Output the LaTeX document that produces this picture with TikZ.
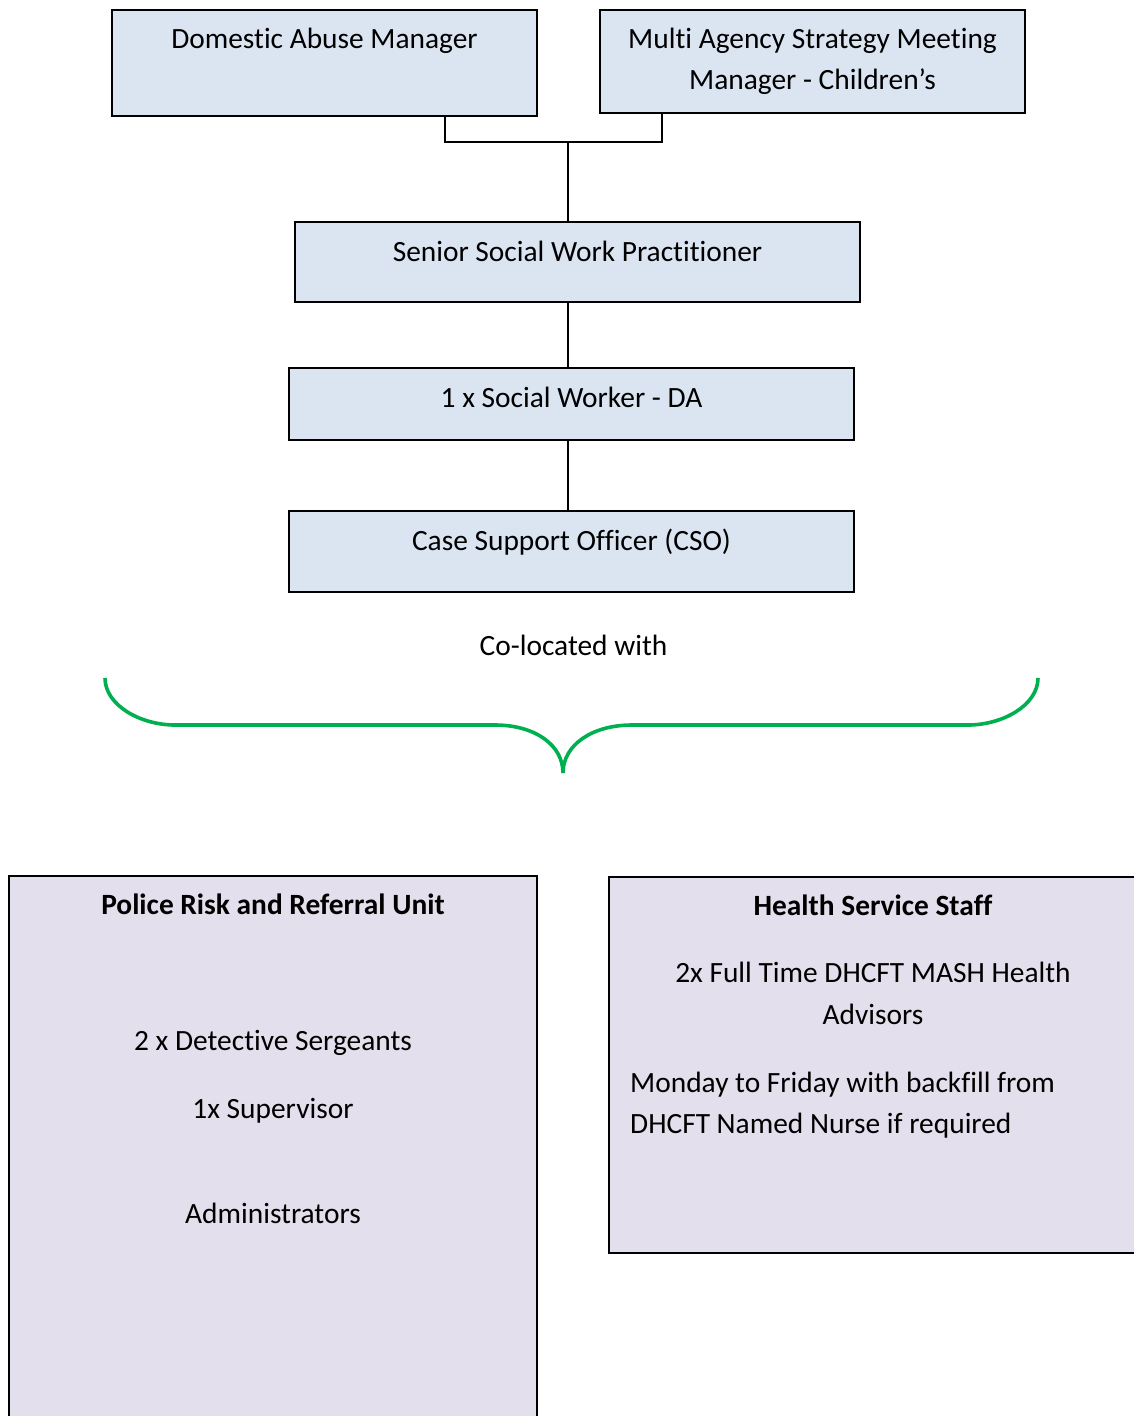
\documentclass[tikz,border=0pt]{standalone}
\usepackage{fontspec}
\setmainfont{Carlito}[Ligatures=NoCommon]
\definecolor{boxblue}{HTML}{DBE5F1}
\definecolor{boxlav}{HTML}{E4DFEC}
\definecolor{bracegreen}{HTML}{00B050}
\begin{document}
\begin{tikzpicture}[x=1pt,y=-1pt,
  bluebox/.style={draw=black, line width=1.5pt, fill=boxblue, inner sep=0pt, outer sep=0pt},
  lavbox/.style={draw=black, line width=1.5pt, fill=boxlav, inner sep=0pt, outer sep=0pt},
  txt/.style={anchor=base, inner sep=0pt, font=\fontsize{29.4}{41}\selectfont},
  btxt/.style={anchor=base, inner sep=0pt, font=\fontsize{29.4}{41}\selectfont\bfseries},
  ltxt/.style={anchor=base west, inner sep=0pt, font=\fontsize{29.4}{41}\selectfont},
  conn/.style={draw=black, line width=1.5pt},
  brace/.style={draw=bracegreen, line width=3.6pt}]
\useasboundingbox (0,0) rectangle (1133,1416);
% top boxes
\node[bluebox, minimum width=425pt, minimum height=106pt] (dam) at (324.5,63) {};
\node[bluebox, minimum width=425pt, minimum height=103pt] (masm) at (812.5,61.5) {};
\node[bluebox, minimum width=565pt, minimum height=80pt] (sswp) at (577.5,262) {};
\node[bluebox, minimum width=565pt, minimum height=72pt] (sw) at (571.5,404) {};
\node[bluebox, minimum width=565pt, minimum height=81pt] (cso) at (571.5,551.5) {};
% texts
\node[txt] (tdam) at (324.5,48.5) {Domestic Abuse Manager};
\node[txt] (tmasm1) at (812.5,48.5) {Multi Agency Strategy Meeting};
\node[txt] (tmasm2) at (812.5,89.5) {Manager - Children’s};
\node[txt] (tsswp) at (577.5,261.5) {Senior Social Work Practitioner};
\node[txt] (tsw) at (571.5,407.5) {1 x Social Worker - DA};
\node[txt] (tcso) at (571.5,550.5) {Case Support Officer (CSO)};
\node[txt] (tcol) at (573.5,655.5) {Co-located with};
% connectors
\coordinate (junc) at (568,142);
\draw[conn] ([xshift=120.5pt]dam.south) |- (junc);
\draw[conn] ([xshift=-150.5pt]masm.south) |- (junc);
\draw[conn] (junc) -- (junc |- sswp.north);
\draw[conn] (sswp.south -| junc) -- (sw.north -| junc);
\draw[conn] (sw.south -| junc) -- (cso.north -| junc);
% brace
\draw[brace] (105,678) .. controls (105,705) and (140,725) .. (175,725) -- (495,725)
  .. controls (535,725) and (563,745) .. (563,773)
  .. controls (563,745) and (592,725) .. (632,725) -- (968,725)
  .. controls (1003,725) and (1038,705) .. (1038,678);
% bottom boxes
\node[lavbox, minimum width=528pt, minimum height=549pt] (police) at (273,1150.5) {};
\node[lavbox, minimum width=528pt, minimum height=376pt] (health) at (873,1065) {};
\node[btxt] (tpol) at (273,914.5) {Police Risk and Referral Unit};
\node[txt] (tpol1) at (273,1050.5) {2 x Detective Sergeants};
\node[txt] (tpol2) at (273,1118.5) {1x Supervisor};
\node[txt] (tpol3) at (273,1223.5) {Administrators};
\node[btxt] (thea) at (873,915.5) {Health Service Staff};
\node[txt] (thea1) at (873,982.5) {2x Full Time DHCFT MASH Health};
\node[txt] (thea2) at (873,1024.5) {Advisors};
\node[ltxt] (thea3) at (630,1092.5) {Monday to Friday with backfill from};
\node[ltxt] (thea4) at (630,1133.5) {DHCFT Named Nurse if required};
\end{tikzpicture}
\end{document}
